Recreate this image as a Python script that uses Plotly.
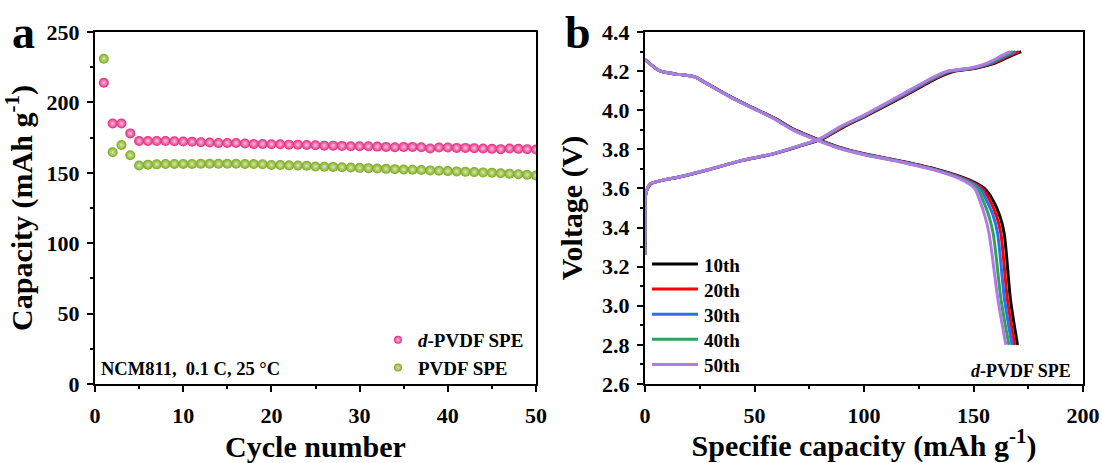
import plotly.graph_objects as go

# ---------------- Panel a data ----------------
cycles = list(range(1, 51))
d_pvdf = [214, 185, 185, 178, 172.6, 172.6, 172.6, 172.6, 172.4, 172.2,
          172.0, 171.7, 171.5, 171.2, 171.2, 171.2, 170.8, 170.5, 170.5, 170.3,
          170.3, 170.0, 170.0, 169.8, 169.6, 169.3, 169.3, 169.1, 168.9, 168.9,
          168.9, 168.6, 168.4, 168.2, 168.4, 168.4, 168.2, 167.3, 168.0, 168.0,
          167.7, 167.7, 167.5, 167.3, 167.0, 166.8, 167.3, 167.0, 166.8, 166.5]
pvdf = [231, 164.6, 169.8, 162.5, 155.2, 155.8, 156.0, 156.2, 156.3, 156.3,
        156.3, 156.4, 156.4, 156.4, 156.4, 156.4, 156.3, 156.2, 156.1, 155.6,
        155.5, 155.3, 155.2, 155.0, 154.5, 154.3, 154.2, 154.0, 153.8, 153.5,
        153.3, 153.0, 152.8, 152.6, 152.4, 152.2, 152.0, 151.7, 151.5, 151.2,
        151.0, 150.7, 150.5, 150.3, 150.0, 149.7, 149.4, 149.0, 148.6, 148.1]
series_a_names = ["<b><i>d</i>-PVDF SPE</b>", "<b>PVDF SPE</b>"]
series_a_colors = ["#E3277F", "#7BA820"]
series_a_glow = ["#F9C3DD", "#D8EAA8"]

# ---------------- Panel b data ----------------
cycle_labels = ["10th", "20th", "30th", "40th", "50th"]
line_colors = ["#000000", "#FF0000", "#2B6FF2", "#2FA35E", "#B07CE2"]

v_charge = [3.26, 3.45, 3.574, 3.622, 3.639, 3.66, 3.694, 3.741, 3.778, 3.82, 3.855,
            3.915, 3.975, 4.07, 4.17, 4.20, 4.215, 4.24, 4.28, 4.30]
cap_charge_10 = [0, 0.1, 0.4, 2.5, 7.0, 16.3, 28.5, 43.8, 59.2, 71.6, 81.2, 90.8, 101.6, 118.0, 134.5, 141.5, 151.0, 159.5, 167.5, 171.8]
cap_charge_20 = [0, 0.1, 0.4, 2.4, 6.9, 16.2, 28.4, 43.7, 59.0, 71.4, 80.8, 90.3, 101.2, 117.4, 133.8, 140.6, 150.2, 158.6, 166.4, 170.7]
cap_charge_30 = [0, 0.1, 0.4, 2.4, 6.9, 16.1, 28.3, 43.6, 58.9, 71.2, 80.5, 89.8, 100.8, 116.8, 133.1, 139.7, 149.4, 157.7, 165.2, 169.2]
cap_charge_40 = [0, 0.1, 0.4, 2.3, 6.8, 16.0, 28.2, 43.5, 58.7, 71.0, 80.2, 89.4, 100.4, 116.1, 132.4, 138.8, 148.7, 156.8, 164.1, 168.0]
cap_charge_50 = [0, 0.1, 0.4, 2.3, 6.8, 16.0, 28.2, 43.4, 58.6, 70.8, 79.9, 89.0, 100.0, 115.5, 131.8, 138.0, 148.0, 156.0, 163.0, 166.8]

v_discharge = [4.259, 4.201, 4.187, 4.170, 4.136, 4.068, 4.017, 3.958, 3.898, 3.847,
               3.804, 3.772, 3.738, 3.695, 3.644, 3.60, 3.543, 3.46, 3.37, 3.03, 2.8]
cap_dis_10 = [0, 6.8, 12.9, 22.8, 28.4, 39.2, 48.4, 59.4, 68.8, 79.8, 90.6, 102.0, 117.6, 134.2, 148.0, 155.0, 158.7, 162.0, 164.0, 166.9, 170.1]
cap_dis_20 = [0, 6.8, 12.9, 22.8, 28.3, 39.1, 48.3, 59.2, 68.5, 79.4, 90.2, 101.5, 117.1, 133.6, 147.2, 154.0, 157.3, 160.5, 162.5, 165.5, 168.8]
cap_dis_30 = [0, 6.8, 12.9, 22.8, 28.3, 39.0, 48.1, 59.0, 68.2, 79.0, 89.8, 101.0, 116.6, 133.0, 146.4, 153.0, 155.8, 159.0, 161.0, 164.2, 167.6]
cap_dis_40 = [0, 6.8, 12.9, 22.8, 28.2, 38.9, 48.0, 58.8, 67.9, 78.7, 89.4, 100.5, 116.0, 132.4, 145.6, 151.8, 154.2, 157.0, 159.0, 162.6, 166.2]
cap_dis_50 = [0, 6.8, 12.9, 22.8, 28.2, 38.8, 47.9, 58.6, 67.7, 78.4, 89.0, 100.0, 115.5, 131.8, 144.8, 150.5, 152.7, 155.2, 157.1, 161.2, 164.8]

charges = [cap_charge_10, cap_charge_20, cap_charge_30, cap_charge_40, cap_charge_50]
discharges = [cap_dis_10, cap_dis_20, cap_dis_30, cap_dis_40, cap_dis_50]

FONT = "Times New Roman, Liberation Serif, serif"
W, H = 1102, 463

def px(x):
    return x / W

def py(y):
    return 1 - y / H

fig = go.Figure()

# Panel a scatter (data traces, legend drawn with small dummy markers)
for name, vals, col, glow in zip(series_a_names, [d_pvdf, pvdf], series_a_colors, series_a_glow):
    fig.add_trace(go.Scatter(
        x=cycles, y=vals, mode="markers", name=name, showlegend=False,
        marker=dict(size=10, color=col, line=dict(width=0),
                    gradient=dict(type="radial", color=glow)),
        xaxis="x", yaxis="y"))
for name, col, glow in zip(series_a_names, series_a_colors, series_a_glow):
    fig.add_trace(go.Scatter(
        x=[None], y=[None], mode="markers", name=name, showlegend=True,
        marker=dict(size=8, color=col, line=dict(width=0),
                    gradient=dict(type="radial", color=glow)),
        xaxis="x", yaxis="y"))

# Panel b curves
for lab, col, ch, dis in zip(cycle_labels, line_colors, charges, discharges):
    fig.add_trace(go.Scatter(
        x=ch + [None] + dis, y=v_charge + [None] + v_discharge,
        mode="lines", name=f"<b>{lab}</b>", showlegend=False,
        line=dict(color=col, width=3, shape="spline", smoothing=0.8),
        xaxis="x2", yaxis="y2"))

xa = [px(95), px(536)]
xb = [px(645), px(1083)]
yd = [py(384), py(32)]

tickfont = dict(family=FONT, size=22, color="black", weight="bold")
titlefont = dict(family=FONT, size=30, color="black", weight="bold")
minor_common = dict(ticks="outside", ticklen=3, tickwidth=2, tickcolor="black")
common = dict(showline=True, linewidth=2, linecolor="black", mirror=True,
              ticks="outside", ticklen=6, tickwidth=2, tickcolor="black",
              showgrid=False, zeroline=False, tickfont=tickfont, automargin=False)

# custom line legend for panel b
shapes = []
annotations = []
for i, (lab, col) in enumerate(zip(cycle_labels, line_colors)):
    yy = 264 + 25.1 * i
    shapes.append(dict(type="line", xref="paper", yref="paper",
                       x0=px(652), x1=px(698), y0=py(yy), y1=py(yy),
                       line=dict(color=col, width=3)))
    annotations.append(dict(text=f"<b>{lab}</b>", x=px(702), y=py(yy + 1), xref="paper", yref="paper",
                            showarrow=False, xanchor="left", yanchor="middle",
                            font=dict(family=FONT, size=19, color="black")))

annotations += [
    dict(text="<b>a</b>", x=px(23), y=py(33), xref="paper", yref="paper",
         showarrow=False, font=dict(family=FONT, size=46, color="black"), xanchor="center", yanchor="middle"),
    dict(text="<b>b</b>", x=px(578), y=py(33), xref="paper", yref="paper",
         showarrow=False, font=dict(family=FONT, size=46, color="black"), xanchor="center", yanchor="middle"),
    dict(text="<b>NCM811,\u00a0 0.1 C, 25 \u00b0C</b>", x=px(99), y=py(369), xref="paper", yref="paper",
         showarrow=False, font=dict(family=FONT, size=18.5, color="black"), xanchor="left", yanchor="middle"),
    dict(text="<b><i>d</i>-PVDF SPE</b>", x=px(1073), y=py(371), xref="paper", yref="paper",
         showarrow=False, font=dict(family=FONT, size=18, color="black"), xanchor="right", yanchor="middle"),
]

fig.update_layout(
    width=W, height=H, margin=dict(l=0, r=0, t=0, b=0, autoexpand=False),
    paper_bgcolor="white", plot_bgcolor="white",
    xaxis=dict(domain=xa, range=[0, 50], dtick=10, anchor="y", ticklabelstandoff=5,
               minor=dict(dtick=5, **minor_common),
               title=dict(text="Cycle number", font=titlefont, standoff=10), **common),
    yaxis=dict(domain=yd, range=[0, 250], dtick=50, anchor="x", ticklabelstandoff=3,
               minor=dict(dtick=25, **minor_common),
               title=dict(text="Capacity (mAh g<sup>-1</sup>)", font=titlefont, standoff=6), **common),
    xaxis2=dict(domain=xb, range=[0, 200], dtick=50, anchor="y2", ticklabelstandoff=5,
                minor=dict(dtick=25, **minor_common),
                title=dict(text="Specifie capacity (mAh g<sup>-1</sup>)", font=titlefont, standoff=1), **common),
    yaxis2=dict(domain=yd, range=[2.6, 4.4], dtick=0.2, tickformat=".1f", anchor="x2", ticklabelstandoff=3,
                minor=dict(dtick=0.1, **minor_common),
                title=dict(text="Voltage (V)", font=titlefont, standoff=11), **common),
    legend=dict(x=px(378), y=py(321), xanchor="left", yanchor="top",
                bgcolor="rgba(0,0,0,0)", font=dict(family=FONT, size=19, color="black"),
                itemwidth=30, tracegroupgap=0),
    showlegend=True,
    shapes=shapes,
    annotations=annotations,
)

fig.write_html("out.html")
